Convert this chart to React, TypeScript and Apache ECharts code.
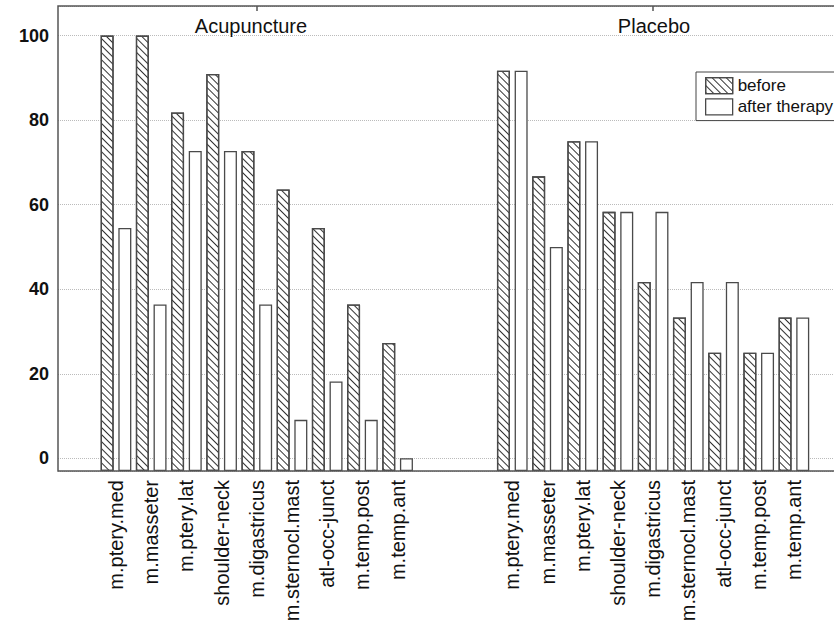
import React, { useEffect, useRef } from 'react';
import * as echarts from 'echarts';

const categories = [
  'm.ptery.med',
  'm.masseter',
  'm.ptery.lat',
  'shoulder-neck',
  'm.digastricus',
  'm.sternocl.mast',
  'atl-occ-junct',
  'm.temp.post',
  'm.temp.ant',
];
const groupTitles = ['Acupuncture', 'Placebo'];
const seriesNames = ['before', 'after therapy'];
const acuBefore = [100, 100, 81.8, 90.9, 72.7, 63.6, 54.5, 36.4, 27.3];
const acuAfter = [54.5, 36.4, 72.7, 72.7, 36.4, 9.1, 18.2, 9.1, 0];
const plaBefore = [91.7, 66.7, 75, 58.3, 41.7, 33.3, 25, 25, 33.3];
const plaAfter = [91.7, 50, 75, 58.3, 58.3, 41.7, 41.7, 25, 33.3];

export default function App() {
  const ref = useRef<HTMLDivElement>(null);
  useEffect(() => {
    const chart = echarts.init(ref.current!, null, { renderer: 'svg' });
    const font = 'Arial, "Liberation Sans", sans-serif';
    const yMin = -3;
    const yMax = 107;
    const hatch = {
      symbol: 'rect',
      symbolSize: 1,
      color: '#333',
      dashArrayX: [1, 0],
      dashArrayY: [0.8, 3.4],
      rotation: Math.PI / 4,
    };
    const barItem = (hatched: boolean) => ({
      color: '#fff',
      borderColor: '#4a4a4a',
      borderWidth: 1.3,
      ...(hatched ? { decal: hatch } : {}),
    });
    const top = 6;
    const bottom = 154;
    const groups = [
      { left: 98.4, data: [acuBefore, acuAfter] },
      { left: 494.7, data: [plaBefore, plaAfter] },
    ];
    const grids: any[] = [
      { left: 58, top, right: 12, bottom, show: true, borderColor: '#555', borderWidth: 1.5, z: 3 },
    ];
    const xAxes: any[] = [{ type: 'value', gridIndex: 0, min: 0, max: 1, show: false }];
    const yAxes: any[] = [
      {
        type: 'value',
        gridIndex: 0,
        min: yMin,
        max: yMax,
        axisLine: { show: false },
        axisTick: { show: false },
        axisLabel: {
          formatter: (v: number) => (v % 20 === 0 ? String(v) : ''),
          margin: 9,
          fontSize: 18,
          fontWeight: 'bold',
          fontFamily: font,
          color: '#111',
        },
        splitLine: { show: true, lineStyle: { type: 'dotted', color: '#bbb', width: 1 } },
      },
    ];
    const series: any[] = [];
    groups.forEach((g, i) => {
      const gi = i + 1;
      grids.push({ left: g.left, width: 316.8, top, bottom });
      xAxes.push({
        type: 'category',
        gridIndex: gi,
        data: categories,
        axisLine: { show: false },
        axisTick: { show: false },
        axisLabel: { interval: 0, rotate: 90, margin: 9, fontSize: 20, fontFamily: font, color: '#111' },
      });
      yAxes.push({ type: 'value', gridIndex: gi, min: yMin, max: yMax, startValue: yMin, show: false });
      g.data.forEach((vals, si) => {
        series.push({
          type: 'bar',
          name: seriesNames[si],
          xAxisIndex: xAxes.length - 1,
          yAxisIndex: gi,
          data: vals,
          barWidth: 13,
          barGap: '36%',
          itemStyle: barItem(si === 0),
          emphasis: { disabled: true },
        });
      });
    });
    groups.forEach((g, i) => {
      xAxes.push({
        type: 'category',
        gridIndex: i + 1,
        position: 'top',
        data: [groupTitles[i]],
        axisLine: { show: false },
        axisLabel: { show: false },
        axisTick: { show: true, inside: true, length: 5, alignWithLabel: true, lineStyle: { color: '#555', width: 1.5 } },
      });
    });

    chart.setOption({
      animation: false,
      backgroundColor: '#fff',
      grid: grids,
      xAxis: xAxes,
      yAxis: yAxes,
      series,
      legend: {
        data: seriesNames.map((n, i) => ({
          name: n,
          icon: 'rect',
          itemStyle: barItem(i === 0),
        })),
        orient: 'vertical',
        left: 696,
        top: 72,
        itemWidth: 27,
        itemHeight: 16,
        itemGap: 4,
        padding: [5, 8, 5, 9],
        borderColor: '#444',
        borderWidth: 1,
        backgroundColor: '#fff',
        selectedMode: false,
        textStyle: { fontSize: 17, fontFamily: font, color: '#111' },
        z: 10,
      },
      graphic: [
        { type: 'text', x: 251, y: 26, style: { text: groupTitles[0], font: `20px ${font}`, fill: '#111', textAlign: 'center', textVerticalAlign: 'middle' } },
        { type: 'text', x: 654, y: 26, style: { text: groupTitles[1], font: `20px ${font}`, fill: '#111', textAlign: 'center', textVerticalAlign: 'middle' } },
      ],
    });
    return () => chart.dispose();
  }, []);
  return (
    <div style={{ position: 'fixed', left: 0, top: 0, width: 834, height: 625, overflow: 'hidden', background: '#fff' }}>
      <div ref={ref} style={{ width: 880, height: 625 }} />
    </div>
  );
}
